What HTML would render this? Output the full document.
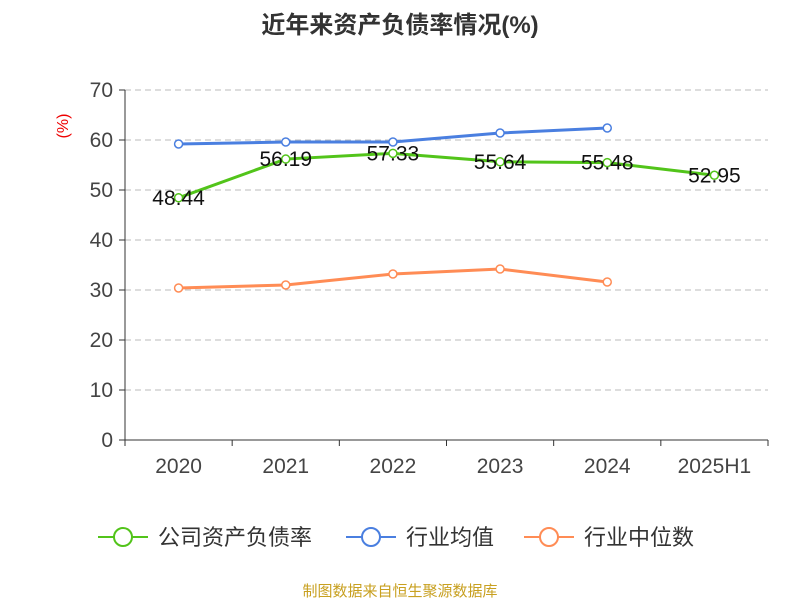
<!DOCTYPE html>
<html><head><meta charset="utf-8"><style>
body{margin:0;background:#fff;font-family:"Liberation Sans","Noto Sans CJK SC",sans-serif}
</style></head><body>
<svg id="c" width="800" height="600" xmlns="http://www.w3.org/2000/svg" font-family="Liberation Sans, Noto Sans CJK SC, sans-serif">
<text x="400" y="33" text-anchor="middle" font-size="24" font-weight="bold" fill="#333">近年来资产负债率情况(%)</text>
<text transform="translate(68,126) rotate(-90)" text-anchor="middle" font-size="16" fill="#e00">(%)</text>
<g id="grid"></g><g id="axes"></g><g id="series"></g>
<g>
<g><line x1="98" y1="537" x2="148" y2="537" stroke="#52c41a" stroke-width="2"/><circle cx="123" cy="537" r="9" fill="#fff" stroke="#52c41a" stroke-width="2"/><text x="158" y="545" font-size="22" fill="#333">公司资产负债率</text></g>
<g><line x1="346" y1="537" x2="396" y2="537" stroke="#4a7fe0" stroke-width="2"/><circle cx="371" cy="537" r="9" fill="#fff" stroke="#4a7fe0" stroke-width="2"/><text x="406" y="545" font-size="22" fill="#333">行业均值</text></g>
<g><line x1="524" y1="537" x2="574" y2="537" stroke="#ff8c55" stroke-width="2"/><circle cx="549" cy="537" r="9" fill="#fff" stroke="#ff8c55" stroke-width="2"/><text x="584" y="545" font-size="22" fill="#333">行业中位数</text></g>
</g>
<text x="400" y="596" text-anchor="middle" font-size="15" fill="#c8a020">制图数据来自恒生聚源数据库</text>
</svg>
<script>
const categories=["2020","2021","2022","2023","2024","2025H1"];
const companyValues=[48.44,56.19,57.33,55.64,55.48,52.95];
const industryAvg=[59.2,59.6,59.6,61.4,62.4,null];
const industryMedian=[30.4,31.0,33.2,34.2,31.6,null];
const yTicks=[0,10,20,30,40,50,60,70];
const NS="http://www.w3.org/2000/svg";
const L=125,R=768,T=90,B=440;
const cw=(R-L)/categories.length;
const x=i=>L+cw*(i+0.5);
const y=v=>B-(v/70)*(B-T);
function mk(tag,attrs,parent){const e=document.createElementNS(NS,tag);for(const k in attrs)e.setAttribute(k,attrs[k]);parent.appendChild(e);return e;}
const grid=document.getElementById('grid'),axes=document.getElementById('axes'),ser=document.getElementById('series');
yTicks.forEach(t=>{
 if(t>0){const g=mk('line',{x1:L,x2:R,y1:y(t),y2:y(t),stroke:'#bbb','stroke-dasharray':'6,4'},grid);
 
 }
 const tk=mk('line',{x1:L-6,x2:L,y1:y(t),y2:y(t),stroke:'#333'},axes);
 
 
 const tx=mk('text',{x:L-12,y:y(t)+7,'text-anchor':'end','font-size':21,fill:'#444'},axes);tx.textContent=t;
 
 
});
const ya=mk('line',{x1:L,x2:L,y1:T,y2:B,stroke:'#333'},axes);


const xa=mk('line',{x1:L,x2:R,y1:B,y2:B,stroke:'#333'},axes);


for(let i=0;i<=categories.length;i++){const t=mk('line',{x1:L+cw*i,x2:L+cw*i,y1:B,y2:B+6,stroke:'#333'},axes);
 
 }
categories.forEach((c,i)=>{const t=mk('text',{x:x(i),y:B+33,'text-anchor':'middle','font-size':21,fill:'#444'},axes);t.textContent=c;
 
 });
function draw(vals,color,name,labels){
 const pts=[];vals.forEach((v,i)=>{if(v!=null)pts.push([x(i),y(v),v]);});
 const p=mk('polyline',{points:pts.map(p=>p[0]+','+p[1]).join(' '),fill:'none',stroke:color,'stroke-width':3},ser);
 
 
 pts.forEach(q=>{const c=mk('circle',{cx:q[0],cy:q[1],r:4,fill:'#fff',stroke:color,'stroke-width':1.5},ser);
  
  
  if(labels){const t=mk('text',{x:q[0],y:q[1]+7,'text-anchor':'middle','font-size':21,fill:'#111'},ser);t.textContent=q[2].toFixed(2);
   
   }});
}
draw(industryMedian,'#ff8c55','industry-median',false);
draw(industryAvg,'#4a7fe0','industry-avg',false);
draw(companyValues,'#52c41a','company',true);
</script>
</body></html>
